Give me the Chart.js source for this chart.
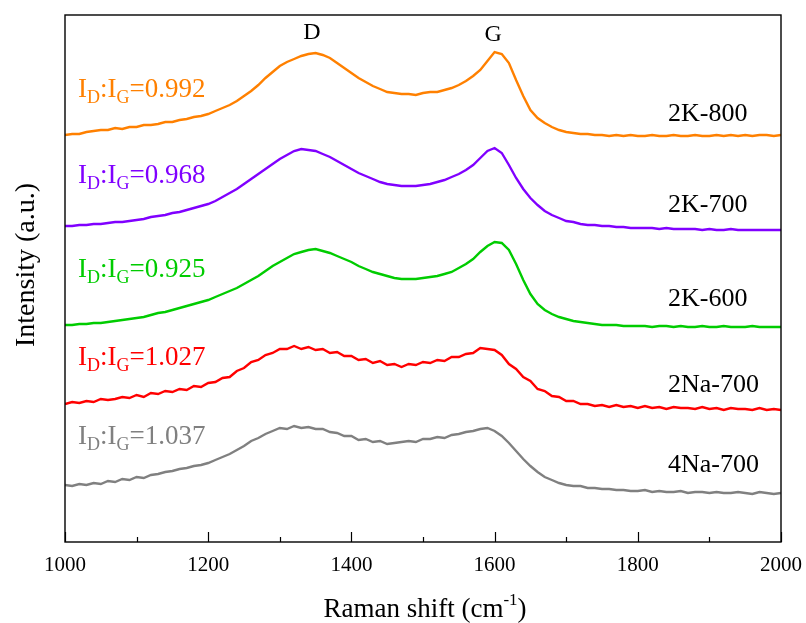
<!DOCTYPE html>
<html>
<head>
<meta charset="utf-8">
<script src="https://cdn.jsdelivr.net/npm/chart.js@4.4.1/dist/chart.umd.min.js"></script>
<style>
  html, body { margin: 0; padding: 0; background: #fff; }
  #wrap { width: 806px; height: 623px; }
</style>
</head>
<body>
<div id="wrap"><canvas id="c" width="806" height="623"></canvas></div>
<script>
// Raman shift axis (cm-1), sampled every 10 cm-1
const ramanShift = [
  1000,1010,1020,1030,1040,1050,1060,1070,1080,1090,
  1100,1110,1120,1130,1140,1150,1160,1170,1180,1190,
  1200,1210,1220,1230,1240,1250,1260,1270,1280,1290,
  1300,1310,1320,1330,1340,1350,1360,1370,1380,1390,
  1400,1410,1420,1430,1440,1450,1460,1470,1480,1490,
  1500,1510,1520,1530,1540,1550,1560,1570,1580,1590,
  1600,1610,1620,1630,1640,1650,1660,1670,1680,1690,
  1700,1710,1720,1730,1740,1750,1760,1770,1780,1790,
  1800,1810,1820,1830,1840,1850,1860,1870,1880,1890,
  1900,1910,1920,1930,1940,1950,1960,1970,1980,1990,
  2000
];

// Stacked (offset) intensities, arbitrary units
const k800 = [
  407,408,408,410,411,412,412,414,413,415,
  415,417,417,418,420,420,422,423,425,426,
  428,431,434,437,441,446,451,457,464,470,
  476,480,483,486,488,489,487,484,479,474,
  469,464,460,456,453,450,449,448,448,447,
  449,450,450,452,454,457,461,466,472,481,
  490,488,479,462,446,432,424,419,415,412,
  410,409,408,408,407,407,406,407,406,407,
  406,406,407,406,406,407,406,406,407,406,
  406,407,406,407,406,407,406,407,407,406,
  407
];
const k700 = [
  316,316,317,317,318,318,319,320,320,321,
  322,323,325,326,327,329,330,332,334,336,
  338,341,345,349,353,358,363,368,373,378,
  383,387,391,393,392,391,388,385,381,377,
  373,369,366,363,360,358,357,356,356,356,
  357,358,360,362,365,368,372,377,384,391,
  394,389,377,364,353,344,337,331,327,324,
  321,320,318,317,317,316,316,315,315,314,
  314,314,314,313,314,313,313,313,313,312,
  313,312,312,313,312,312,312,312,312,312,
  312
];
const k600 = [
  217,217,218,218,219,219,220,221,222,223,
  224,225,227,229,230,232,234,236,238,240,
  242,245,248,251,254,258,262,266,271,276,
  280,284,288,290,292,293,291,289,286,283,
  280,276,273,270,268,266,264,263,263,263,
  264,265,266,268,270,274,278,283,290,296,
  300,299,292,278,262,248,238,232,228,225,
  223,221,220,219,218,217,217,217,216,216,
  216,216,215,216,216,215,216,215,215,216,
  215,215,216,215,215,215,216,215,215,215,
  215
];
const na700 = [
  138,140,139,141,140,143,142,143,145,144,
  147,145,149,148,151,150,153,152,156,155,
  159,160,164,165,171,174,180,182,187,189,
  193,193,196,193,195,192,193,189,190,186,
  186,182,183,179,181,177,178,175,178,177,
  180,179,182,181,185,185,188,189,194,193,
  192,187,178,173,165,161,153,151,146,145,
  141,141,138,138,136,137,135,137,135,136,
  134,136,134,135,133,135,134,134,133,135,
  133,134,132,134,133,133,132,134,132,133,
  132
];
const na4700 = [
  57,56,58,57,59,58,61,60,63,62,
  65,64,67,68,70,71,73,74,76,77,
  79,82,85,88,92,96,101,104,108,111,
  114,113,116,114,115,113,113,110,109,106,
  106,102,103,100,101,98,99,100,101,100,
  103,103,105,104,107,108,110,111,113,114,
  111,106,99,91,83,76,70,65,62,59,
  57,56,56,54,54,53,53,52,52,51,
  51,52,50,51,50,50,51,49,50,50,
  49,50,49,49,50,49,48,50,49,48,
  49
];

const seriesNames = ['2K-800', '2K-700', '2K-600', '2Na-700', '4Na-700'];
const seriesValues = [k800, k700, k600, na700, na4700];
const seriesColors = ['#FF8000', '#8000FF', '#00CC00', '#FF0000', '#808080'];
const ratioLabels = ['0.992', '0.968', '0.925', '1.027', '1.037'];
const xTickLabels = [1000, 1200, 1400, 1600, 1800, 2000];
const xMinorTicks = [1100, 1300, 1500, 1700, 1900];
const peakLabels = ['D', 'G'];
const peakPositions = [1345, 1598];

const SERIF = "'Liberation Serif', 'Times New Roman', serif";

// Where the ratio and sample names sit (pixel baselines)
const ratioBaselines = [97, 183, 277, 365, 444];
const nameBaselines = [121, 212, 306, 392, 472];

const decorations = {
  id: 'decorations',
  afterDatasetsDraw(chart) {
    const { ctx, chartArea: a, scales: { x } } = chart;
    ctx.save();

    // frame
    ctx.strokeStyle = '#000';
    ctx.lineWidth = 1.4;
    ctx.strokeRect(a.left, a.top, a.right - a.left, a.bottom - a.top);

    // inward ticks on the bottom axis
    ctx.beginPath();
    xTickLabels.forEach(v => {
      const px = Math.round(x.getPixelForValue(v)) + 0.5;
      ctx.moveTo(px, a.bottom); ctx.lineTo(px, a.bottom - 10);
    });
    xMinorTicks.forEach(v => {
      const px = Math.round(x.getPixelForValue(v)) + 0.5;
      ctx.moveTo(px, a.bottom); ctx.lineTo(px, a.bottom - 5);
    });
    ctx.lineWidth = 1.2;
    ctx.stroke();

    // peak labels
    ctx.fillStyle = '#000';
    ctx.font = `24px ${SERIF}`;
    ctx.textAlign = 'center';
    ctx.textBaseline = 'alphabetic';
    peakLabels.forEach((t, i) => {
      ctx.fillText(t, x.getPixelForValue(peakPositions[i]), i === 0 ? 39 : 41);
    });

    // I_D:I_G ratio labels
    ctx.textAlign = 'left';
    ratioLabels.forEach((r, i) => {
      let cx = 78;
      const by = ratioBaselines[i];
      ctx.fillStyle = seriesColors[i];
      const parts = [
        ['I', 27, 0], ['D', 18, 6], [':I', 27, 0], ['G', 18, 6], ['=' + r, 27, 0]
      ];
      parts.forEach(([t, size, dy]) => {
        ctx.font = `${size}px ${SERIF}`;
        ctx.fillText(t, cx, by + dy);
        cx += ctx.measureText(t).width;
      });
    });

    // sample names
    ctx.fillStyle = '#000';
    ctx.font = `26px ${SERIF}`;
    seriesNames.forEach((n, i) => ctx.fillText(n, 668, nameBaselines[i]));

    // axis titles
    const main = 'Raman shift (cm';
    ctx.font = `27px ${SERIF}`;
    const w1 = ctx.measureText(main).width;
    ctx.font = `17px ${SERIF}`;
    const w2 = ctx.measureText('-1').width;
    ctx.font = `27px ${SERIF}`;
    const w3 = ctx.measureText(')').width;
    const tx = 425 - (w1 + w2 + w3) / 2;
    const ty = 617;
    ctx.fillText(main, tx, ty);
    ctx.font = `17px ${SERIF}`;
    ctx.fillText('-1', tx + w1, ty - 12);
    ctx.font = `27px ${SERIF}`;
    ctx.fillText(')', tx + w1 + w2, ty);

    ctx.save();
    ctx.font = `28px ${SERIF}`;
    ctx.translate(34, 265);
    ctx.rotate(-Math.PI / 2);
    ctx.textAlign = 'center';
    ctx.fillText('Intensity (a.u.)', 0, 0);
    ctx.restore();

    ctx.restore();
  }
};

new Chart(document.getElementById('c'), {
  type: 'line',
  data: {
    datasets: seriesValues.map((vals, i) => ({
      label: seriesNames[i],
      data: ramanShift.map((s, j) => ({ x: s, y: vals[j] })),
      borderColor: seriesColors[i],
      borderWidth: 2.4,
      pointRadius: 0,
      tension: 0,
      fill: false
    }))
  },
  options: {
    responsive: false,
    animation: false,
    layout: { padding: { left: 0, right: 25, top: 15, bottom: 0 } },
    plugins: { legend: { display: false }, tooltip: { enabled: false } },
    scales: {
      x: {
        type: 'linear',
        min: 1000, max: 2000,
        afterBuildTicks(scale) { scale.ticks = xTickLabels.map(v => ({ value: v })); },
        afterFit(scale) {
          scale.height = 81;
          scale.paddingLeft = 0;
          scale.paddingRight = 0;
        },
        grid: { display: false, drawTicks: false },
        border: { display: false },
        ticks: {
          color: '#000',
          font: { family: SERIF, size: 21 },
          padding: 11,
          maxRotation: 0,
          autoSkip: false,
          callback: v => String(v)
        }
      },
      y: {
        min: 0, max: 527,
        afterFit(scale) { scale.width = 65; },
        grid: { display: false, drawTicks: false },
        border: { display: false },
        ticks: { display: false }
      }
    }
  },
  plugins: [decorations]
});
</script>
</body>
</html>
